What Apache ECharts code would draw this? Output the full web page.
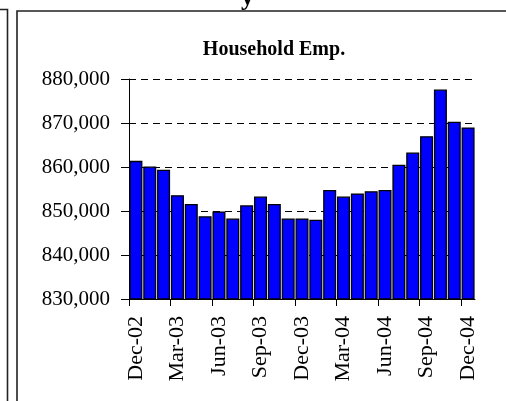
<!DOCTYPE html>
<html>
<head>
<meta charset="utf-8">
<script src="https://cdn.jsdelivr.net/npm/echarts@6/dist/echarts.min.js"></script>
<style>
html,body{margin:0;padding:0;background:#fff;}
#chart{width:506px;height:401px;}
</style>
</head>
<body>
<div id="chart"></div>
<script>
var categories = ['Dec-02','Jan-03','Feb-03','Mar-03','Apr-03','May-03','Jun-03','Jul-03','Aug-03','Sep-03','Oct-03','Nov-03','Dec-03','Jan-04','Feb-04','Mar-04','Apr-04','May-04','Jun-04','Jul-04','Aug-04','Sep-04','Oct-04','Nov-04','Dec-04'];
var householdEmp = [861400, 860100, 859400, 853600, 851600, 848800, 849900, 848300, 851300, 853300, 851600, 848300, 848300, 848000, 854800, 853300, 854000, 854500, 854800, 860500, 863300, 867000, 877600, 870300, 869000];
var yMin = 830000, yMax = 880000, yStep = 10000;

// month boundaries (one more than categories) used only for tick marks
var boundaries = categories.concat(['end']);

var FONT = '"Liberation Serif", "Times New Roman", serif';
var chart = echarts.init(document.getElementById('chart'), null, {renderer: 'canvas'});
chart.setOption({
  animation: false,
  backgroundColor: '#ffffff',
  title: {
    text: 'Household Emp.',
    left: 269, top: 35, textAlign: 'center',
    textStyle: {fontFamily: FONT, fontWeight: 'bold', fontSize: 20, color: '#000'}
  },
  grid: {left: 129, right: 31, top: 79, bottom: 102, containLabel: false},
  xAxis: [{
    type: 'category',
    data: categories,
    boundaryGap: true,
    axisLine: {show: true, lineStyle: {color: '#000', width: 1}},
    axisTick: {show: false},
    axisLabel: {interval: 2, rotate: 90, margin: 17, fontFamily: FONT, fontSize: 22, color: '#000'},
    splitLine: {show: false}
  }, {
    type: 'category',
    data: boundaries,
    position: 'bottom',
    boundaryGap: false,
    axisLine: {show: false},
    axisTick: {show: true, interval: 2, length: 7, lineStyle: {color: '#000'}},
    axisLabel: {show: false},
    splitLine: {show: false}
  }],
  yAxis: {
    type: 'value',
    min: yMin, max: yMax, interval: yStep,
    axisLine: {show: true, lineStyle: {color: '#000', width: 1}},
    axisTick: {show: true, length: 8, lineStyle: {color: '#000'}},
    axisLabel: {margin: 19, fontFamily: FONT, fontSize: 21, color: '#000',
      formatter: function (v) { return v.toLocaleString('en-US'); }},
    splitLine: {show: true, lineStyle: {color: '#000', width: 1, type: [7, 5]}}
  },
  series: [{
    type: 'bar',
    xAxisIndex: 0,
    data: householdEmp,
    barCategoryGap: '6%',
    itemStyle: {color: '#0000ff', borderColor: '#000', borderWidth: 1.3}
  }],
  graphic: [
    {type: 'text', left: 241, top: -15, style: {text: 'y', font: 'bold 26px ' + FONT, fill: '#000'}},
    {type: 'polyline', shape: {points: [[0, 9.5], [7.5, 9.5], [7.5, 401]]}, style: {stroke: '#222', lineWidth: 1.6, fill: null}},
    {type: 'polyline', shape: {points: [[17, 401], [17, 11], [506, 11]]}, style: {stroke: '#222', lineWidth: 1.6, fill: null}}
  ]
});
</script>
</body>
</html>
